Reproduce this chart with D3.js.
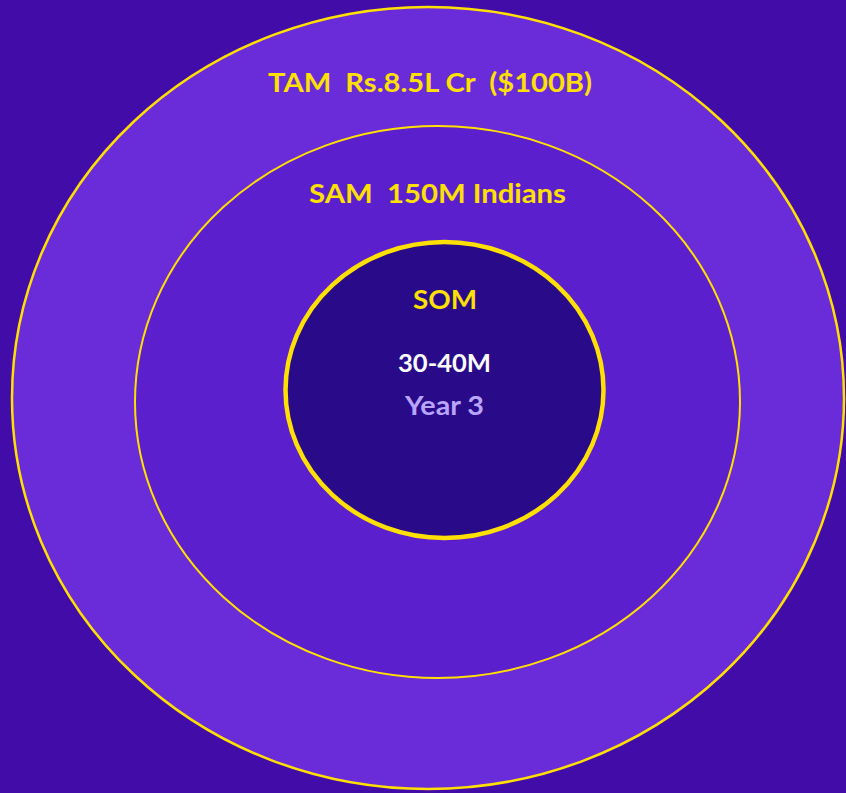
<!DOCTYPE html>
<html>
<head>
<meta charset="utf-8">
<script src="https://cdn.jsdelivr.net/npm/d3@7"></script>
<style>
  html, body { margin: 0; padding: 0; background: #420ca8; overflow: hidden; }
  svg { display: block; }
</style>
</head>
<body>
<script>
// market sizing rings, outer to inner
var ringNames = ["TAM", "SAM", "SOM"];
var ringLabels = ["TAM  Rs.8.5L Cr  ($100B)", "SAM  150M Indians", "SOM"];
var somValue = "30-40M";
var somNote = "Year 3";

var width = 846, height = 793;

// ellipse geometry per ring
var geo = {
  TAM: {cx: 428, cy: 398, rx: 416, ry: 391, fill: "#6a2bd8", sw: 2.5},
  SAM: {cx: 437.5, cy: 402, rx: 302.5, ry: 276, fill: "#5b1fcd", sw: 2},
  SOM: {cx: 444.5, cy: 390, rx: 159, ry: 148, fill: "#290a89", sw: 4.5}
};
// label baselines and text widths
var labelPos = {
  TAM: {x: 430, y: 92, w: 324},
  SAM: {x: 437.5, y: 203, w: 257},
  SOM: {x: 445, y: 309, w: 64}
};

var svg = d3.select("body").append("svg")
    .attr("width", width)
    .attr("height", height);

svg.append("rect")
    .attr("width", width)
    .attr("height", height)
    .attr("fill", "#420ca8");

svg.selectAll(".ring")
    .data(ringNames)
  .enter().append("ellipse")
    .attr("class", "ring")
    .attr("cx", function(d) { return geo[d].cx; })
    .attr("cy", function(d) { return geo[d].cy; })
    .attr("rx", function(d) { return geo[d].rx; })
    .attr("ry", function(d) { return geo[d].ry; })
    .attr("fill", function(d) { return geo[d].fill; })
    .attr("stroke", "#ffe000")
    .attr("stroke-width", function(d) { return geo[d].sw; });

var font = "Lato, 'Open Sans', sans-serif";

svg.selectAll(".label")
    .data(ringNames)
  .enter().append("text")
    .attr("class", "label")
    .attr("x", function(d) { return labelPos[d].x; })
    .attr("y", function(d) { return labelPos[d].y; })
    .attr("text-anchor", "middle")
    .attr("font-family", font)
    .attr("font-weight", "bold")
    .attr("font-size", 27)
    .attr("fill", "#ffe000")
    .attr("textLength", function(d) { return labelPos[d].w; })
    .attr("lengthAdjust", "spacingAndGlyphs")
    .style("white-space", "pre")
    .text(function(d, i) { return ringLabels[i]; });

svg.append("text")
    .attr("x", 444.5)
    .attr("y", 372)
    .attr("text-anchor", "middle")
    .attr("font-family", font)
    .attr("font-weight", "bold")
    .attr("font-size", 24)
    .attr("fill", "#ffffff")
    .attr("textLength", 93)
    .attr("lengthAdjust", "spacingAndGlyphs")
    .text(somValue);

svg.append("text")
    .attr("x", 444.5)
    .attr("y", 415)
    .attr("text-anchor", "middle")
    .attr("font-family", font)
    .attr("font-weight", "bold")
    .attr("font-size", 26)
    .attr("fill", "#b9a4ff")
    .attr("textLength", 79)
    .attr("lengthAdjust", "spacingAndGlyphs")
    .text(somNote);
</script>
</body>
</html>
